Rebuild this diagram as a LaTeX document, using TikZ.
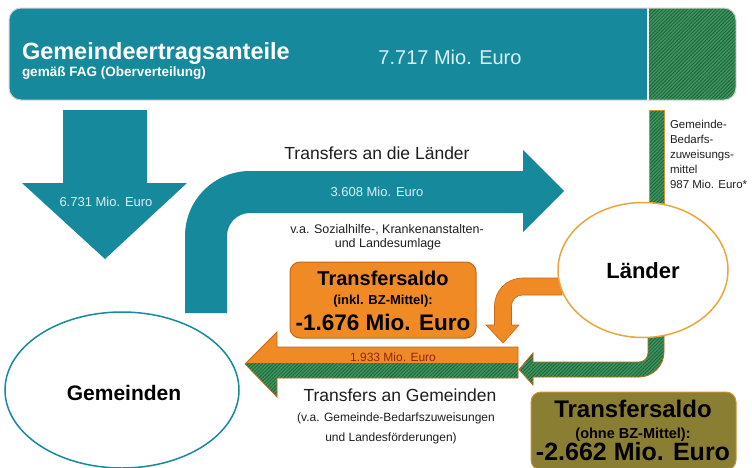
\documentclass[tikz,border=0pt]{standalone}
\usepackage{fontspec}
\setmainfont{Liberation Sans}
\usetikzlibrary{shapes.geometric,patterns.meta}
\definecolor{tealc}{RGB}{22,138,156}
\definecolor{lightc}{RGB}{215,240,245}
\definecolor{orangec}{RGB}{240,138,36}
\definecolor{orangeb}{RGB}{195,105,25}
\definecolor{olivec}{RGB}{138,126,50}
\definecolor{oliveb}{RGB}{205,145,55}
\definecolor{hatchbase}{RGB}{62,150,92}
\definecolor{hatchline}{RGB}{30,95,62}
\definecolor{goldc}{RGB}{235,165,60}
\definecolor{redtext}{RGB}{140,40,20}
\definecolor{textc}{RGB}{30,30,30}
\newcommand\myfs[1]{\fontsize{#1}{#1}\selectfont}
\begin{document}
\begin{tikzpicture}[x=1pt,y=-1pt,
  lbl/.style={anchor=base,inner sep=0pt,outer sep=0pt,text=textc},
  hatch/.style={preaction={fill=hatchbase},pattern={Lines[angle=45,distance=2.5pt,line width=0.8pt]},pattern color=hatchline},
  boxo/.style={draw=orangeb,line width=1pt,fill=orangec,rounded corners=10pt,minimum width=186pt,minimum height=76pt,inner sep=0pt},
  boxg/.style={draw=oliveb,line width=1pt,fill=olivec,rounded corners=10pt,minimum width=205pt,minimum height=78pt,inner sep=0pt},
  ell/.style={ellipse,fill=white,line width=1.5pt,inner sep=0pt}]
\path[use as bounding box] (0,0) rectangle (752,467);

% top bar
\begin{scope}
\clip[rounded corners=12pt] (9,8) rectangle (736,100);
\fill[tealc] (9,8) rectangle (648,100);
\fill[hatch] (648,8) rectangle (736,100);
\draw[white,line width=1.5pt] (648,8) -- (648,100);
\end{scope}
\draw[rounded corners=12pt,draw=black!18,line width=1pt] (9,8) rectangle (736,100);
\node[lbl,anchor=base west,text=white] (t1) at (22,59) {\myfs{23.5}\bfseries Gemeindeertragsanteile};
\node[lbl,anchor=base west,text=white] (t2) at (22,76) {\myfs{13.5}\bfseries gemäß FAG (Oberverteilung)};
\node[lbl,text=lightc] (t3) at (450,64) {\myfs{20}7.717 Mio. Euro};

% down arrow
\fill[tealc] (63,110) -- (147,110) -- (147,183) -- (187,183) -- (105,259) -- (22,183) -- (63,183) -- cycle;
\node[lbl,text=lightc] (d1) at (106,206) {\myfs{13}6.731 Mio. Euro};

% bent teal arrow
\fill[tealc] (185,313) -- (185,236) .. controls (185,200.1) and (214.1,171) .. (250,171) -- (523,171) -- (523,150) -- (564,191) -- (523,232) -- (523,213) -- (250,213) .. controls (237.3,213) and (227,223.3) .. (227,236) -- (227,313) -- cycle;
\node[lbl] (b1) at (377,159) {\myfs{17.5}Transfers an die Länder};
\node[lbl,text=lightc] (b2) at (377,196) {\myfs{13}3.608 Mio. Euro};
\node[lbl] (b3) at (387,233) {\myfs{12.5}v.a. Sozialhilfe-, Krankenanstalten-};
\node[lbl] (b4) at (388,247) {\myfs{12.5}und Landesumlage};

% strip
\draw[hatch,draw=oliveb,line width=0.6pt] (649,110) rectangle (664,203);
\node[lbl,anchor=base west] (s1) at (670,128) {\myfs{11.5}Gemeinde-};
\node[lbl,anchor=base west] (s2) at (670,143) {\myfs{11.5}Bedarfs-};
\node[lbl,anchor=base west] (s3) at (670,158) {\myfs{11.5}zuweisungs-};
\node[lbl,anchor=base west] (s4) at (670,173) {\myfs{11.5}mittel};
\node[lbl,anchor=base west] (s5) at (670,188) {\myfs{11.5}987 Mio. Euro*};

% orange bent arrow
\draw[fill=orangec,draw=orangeb,line width=0.6pt] (562,278) -- (522.5,278) .. controls (507,278) and (494.5,290.5) .. (494.5,306) -- (494.5,325) -- (486,325) -- (503,343) -- (519,325) -- (511.5,325) -- (511.5,306) .. controls (511.5,299.9) and (516.4,295) .. (522.5,295) -- (562,295) -- cycle;

% green bent arrow
\draw[hatch,draw=orangeb,line width=0.8pt] (664,330) -- (664,352) .. controls (664,365.8) and (652.8,377) .. (639,377) -- (533,377) -- (533,385) -- (519,369.5) -- (533,353) -- (533,362) -- (639,362) .. controls (644,362) and (648,358) .. (648,353) -- (648,330) -- cycle;

% band arrow
\begin{scope}
\clip (240,320) rectangle (530,363);
\fill[orangec] (518,347) -- (277,347) -- (277,332) -- (245,364) -- (277,397) -- (277,378) -- (518,378) -- cycle;
\end{scope}
\begin{scope}
\clip (240,363) rectangle (530,400);
\fill[hatch] (518,347) -- (277,347) -- (277,332) -- (245,364) -- (277,397) -- (277,378) -- (518,378) -- cycle;
\end{scope}
\draw[orangeb,line width=0.8pt] (518,347) -- (277,347) -- (277,332) -- (245,364) -- (277,397) -- (277,378) -- (518,378) -- cycle;
\node[lbl,text=redtext] (m1) at (393,361) {\myfs{12}1.933 Mio. Euro};
\node[lbl] (m2) at (400,401) {\myfs{17.5}Transfers an Gemeinden};
\node[lbl] (m3) at (396,421) {\myfs{12}(v.a. Gemeinde-Bedarfszuweisungen};
\node[lbl] (m4) at (391,441) {\myfs{12}und Landesförderungen)};

% ellipses
\node[ell,draw=goldc,minimum width=170pt,minimum height=135pt] (laender) at (643,270) {};
\node[lbl,text=black] (lt) at (643,278) {\myfs{22}\bfseries Länder};
\node[ell,draw=tealc,minimum width=234pt,minimum height=156pt] (gem) at (122,390) {};
\node[lbl,text=black] (gt) at (124,400) {\myfs{21}\bfseries Gemeinden};

% boxes
\node[boxo] (saldo1) at (383,300) {};
\node[lbl,text=black] (o1) at (383,285) {\myfs{20}\bfseries Transfersaldo};
\node[lbl,text=black] (o2) at (383,304) {\myfs{13}\bfseries (inkl. BZ-Mittel):};
\node[lbl,text=black] (o3) at (383,330) {\myfs{22.5}\bfseries -1.676 Mio. Euro};
\node[boxg] (saldo2) at (633.5,431) {};
\node[lbl,text=black] (g1) at (633,417) {\myfs{24}\bfseries Transfersaldo};
\node[lbl,text=black] (g2) at (633,438) {\myfs{14.5}\bfseries (ohne BZ-Mittel):};
\node[lbl,text=black] (g3) at (633,460) {\myfs{25}\bfseries -2.662 Mio. Euro};
\end{tikzpicture}
\end{document}
